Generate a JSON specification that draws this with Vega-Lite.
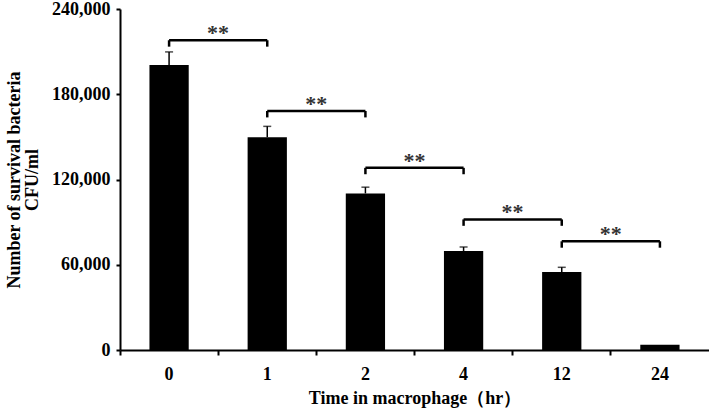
{
  "$schema": "https://vega.github.io/schema/vega-lite/v6.json",
  "width": 589,
  "height": 341,
  "autosize": {"type": "none"},
  "padding": {"left": 120, "top": 9, "right": 0, "bottom": 64},
  "background": "white",
  "config": {
    "view": {"stroke": null},
    "font": "Liberation Serif",
    "axis": {"grid": false, "domainColor": "black", "tickColor": "black", "labelColor": "black", "titleColor": "black", "labelFont": "Liberation Serif", "titleFont": "Liberation Serif", "labelFontWeight": "bold", "titleFontWeight": "bold"}
  },
  "datasets": {
    "bars": [
      {"time": "0", "cfu": 200500, "err": 9300},
      {"time": "1", "cfu": 149700, "err": 7700},
      {"time": "2", "cfu": 110200, "err": 4400},
      {"time": "4", "cfu": 69700, "err": 2800},
      {"time": "12", "cfu": 54900, "err": 3300},
      {"time": "24", "cfu": 3700, "err": 0}
    ],
    "brackets": [
      {"from": "0", "to": "1", "level": 218000, "foot": 213500, "label": "**"},
      {"from": "1", "to": "2", "level": 168200, "foot": 163700, "label": "**"},
      {"from": "2", "to": "4", "level": 128200, "foot": 123700, "label": "**"},
      {"from": "4", "to": "12", "level": 91900, "foot": 87400, "label": "**"},
      {"from": "12", "to": "24", "level": 76500, "foot": 72000, "label": "**"}
    ]
  },
  "encoding": {
    "x": {
      "field": "time", "type": "nominal", "sort": ["0", "1", "2", "4", "12", "24"],
      "scale": {"domain": ["0", "1", "2", "4", "12", "24"], "paddingInner": 0, "paddingOuter": 0},
      "axis": {"title": "Time in macrophage（hr）", "labelAngle": 0, "labelFontSize": 18, "titleFontSize": 18, "labelPadding": 10, "titlePadding": 6, "bandPosition": 0, "tickSize": 5, "tickWidth": 2, "domainWidth": 2}
    }
  },
  "layer": [
    {
      "data": {"name": "bars"},
      "mark": {"type": "bar", "color": "black", "width": {"band": 0.4}},
      "encoding": {
        "y": {
          "field": "cfu", "type": "quantitative",
          "scale": {"domain": [0, 240000], "nice": false},
          "axis": {"values": [0, 60000, 120000, 180000, 240000], "format": ",.0f", "title": ["Number of survival bacteria", "CFU/ml"], "labelFontSize": 18, "titleFontSize": 18, "tickSize": 4, "tickWidth": 2, "domainWidth": 2, "labelPadding": 6, "titlePadding": 10, "titleLineHeight": 18}
        }
      }
    },
    {
      "data": {"name": "bars"},
      "transform": [{"calculate": "datum.cfu + datum.err", "as": "hi"}],
      "mark": {"type": "rule", "color": "black", "strokeWidth": 1.5},
      "encoding": {"y": {"field": "cfu", "type": "quantitative"}, "y2": {"field": "hi"}}
    },
    {
      "data": {"name": "bars"},
      "transform": [{"calculate": "datum.cfu + datum.err", "as": "hi"}, {"filter": "datum.err > 0"}],
      "mark": {"type": "tick", "color": "black", "thickness": 1.5, "size": 8, "orient": "horizontal"},
      "encoding": {"y": {"field": "hi", "type": "quantitative"}}
    },
    {
      "data": {"name": "brackets"},
      "mark": {"type": "rule", "color": "black", "strokeWidth": 2.5},
      "encoding": {"x": {"field": "from", "type": "nominal"}, "x2": {"field": "to"}, "y": {"field": "level", "type": "quantitative"}}
    },
    {
      "data": {"name": "brackets"},
      "mark": {"type": "rule", "color": "black", "strokeWidth": 2.5},
      "encoding": {"x": {"field": "from", "type": "nominal"}, "y": {"field": "level", "type": "quantitative"}, "y2": {"field": "foot"}}
    },
    {
      "data": {"name": "brackets"},
      "mark": {"type": "rule", "color": "black", "strokeWidth": 2.5},
      "encoding": {"x": {"field": "to", "type": "nominal"}, "y": {"field": "level", "type": "quantitative"}, "y2": {"field": "foot"}}
    },
    {
      "data": {"name": "brackets"},
      "mark": {"type": "text", "color": "#333", "fontSize": 22, "fontWeight": "bold", "dx": 49, "dy": -7, "baseline": "middle", "align": "center"},
      "encoding": {"x": {"field": "from", "type": "nominal"}, "y": {"field": "level", "type": "quantitative"}, "text": {"field": "label"}}
    }
  ]
}
